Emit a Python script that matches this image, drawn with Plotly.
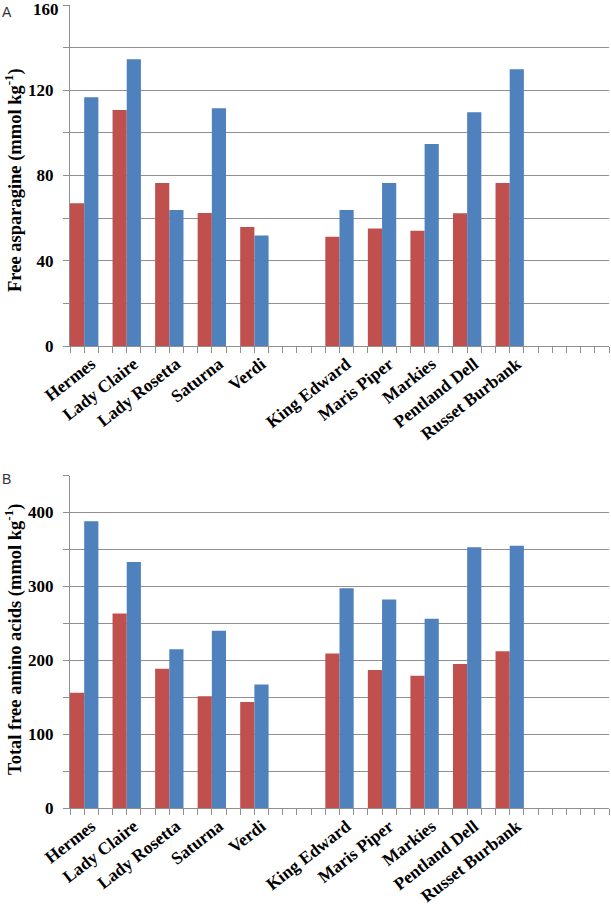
import plotly.graph_objects as go
import numpy as np

# ---- data ----
cultivars = ["Hermes", "Lady Claire", "Lady Rosetta", "Saturna", "Verdi", "",
             "King Edward", "Maris Piper", "Markies", "Pentland Dell", "Russet Burbank"]
asn_red = [67.0, 110.7, 76.5, 62.4, 55.8, None, 51.3, 55.1, 54.1, 62.3, 76.5]
asn_blue = [116.7, 134.5, 63.8, 111.5, 51.9, None, 63.8, 76.5, 94.8, 109.7, 129.8]
faa_red = [156.2, 263.5, 188.8, 151.4, 143.6, None, 209.4, 186.9, 179.2, 195.0, 212.2]
faa_blue = [388.2, 333.2, 214.9, 240.0, 167.4, None, 297.7, 282.4, 256.2, 353.1, 354.9]

asn_ticks = [0, 20, 40, 60, 80, 100, 120, 140, 160]
asn_labels = ["0", "", "40", "", "80", "", "120", "", ""]
asn_top_label = "160"
faa_ticks = [0, 50, 100, 150, 200, 250, 300, 350, 400, 450]
faa_labels = ["0", "", "100", "", "200", "", "300", "", "400", ""]

RED = "#C0504D"
BLUE = "#4F81BD"
GRID = "#8f8f8f"
W, H = 611, 919

x = np.arange(len(cultivars))
label_idx = [i for i, c in enumerate(cultivars) if c]
label_txt = [cultivars[i] for i in label_idx]

fig = go.Figure()
for vals, col, off, xa, ya in [
    (asn_red, RED, -0.5, "x", "y"),
    (asn_blue, BLUE, -1 / 6, "x", "y"),
    (faa_red, RED, -0.5, "x2", "y2"),
    (faa_blue, BLUE, -1 / 6, "x2", "y2"),
]:
    fig.add_trace(go.Bar(x=x, y=vals, width=1 / 3, offset=off,
                         marker=dict(color=col, line=dict(width=0)),
                         xaxis=xa, yaxis=ya, showlegend=False, hoverinfo="skip"))

SERIF = "Liberation Serif, Times New Roman, serif"
xfont = dict(family=SERIF, size=17.5, color="black", weight="bold")
yfont = dict(family=SERIF, size=17, color="black", weight="bold")
tfont = dict(family=SERIF, size=18.5, color="black", weight="bold")

xr = [-0.5, -0.5 + 38 / 3 + 1e-6]
xdom = [70 / W, 609 / W]


def xaxis(anchor):
    return dict(domain=xdom, range=xr, anchor=anchor, tickmode="array",
                tickvals=label_idx, ticktext=label_txt, tickangle=-38,
                ticks="", tickfont=xfont, showgrid=False, zeroline=False,
                showline=True, linecolor=GRID, linewidth=1, automargin=False,
                ticklabeloverflow="allow",
                minor=dict(tick0=-0.5, dtick=1 / 3, ticks="outside", ticklen=6,
                           tickcolor=GRID, tickwidth=1, showgrid=False))


def yaxis(anchor, dom, ticks, labels):
    return dict(domain=dom, range=[0, ticks[-1]], anchor=anchor, tickmode="array",
                tickvals=ticks, ticktext=labels,
                ticks="outside", ticklen=6, tickcolor=GRID, tickfont=yfont,
                ticklabelstandoff=6, ticklabeloverflow="allow",
                showgrid=True, gridcolor=GRID, gridwidth=1, zeroline=False,
                showline=True, linecolor=GRID, linewidth=1, automargin=False)


fig.update_layout(
    width=W, height=H, margin=dict(l=0, r=0, t=0, b=0),
    paper_bgcolor="white", plot_bgcolor="white", barmode="overlay",
    xaxis=xaxis("y"),
    yaxis=yaxis("x", [1 - 346 / H, 1 - 5 / H], asn_ticks, asn_labels),
    xaxis2=xaxis("y2"),
    yaxis2=yaxis("x2", [1 - 808.3 / H, 1 - 475.5 / H], faa_ticks, faa_labels),
    annotations=[
        dict(text=asn_top_label, x=61 / W, y=1 - 10 / H, xref="paper", yref="paper",
             showarrow=False, xanchor="right", yanchor="middle", font=yfont),
        dict(text="Free asparagine (mmol kg<sup>-1</sup>)", x=13 / W, y=1 - 180 / H,
             xref="paper", yref="paper", textangle=-90, showarrow=False,
             xanchor="center", yanchor="middle", font=tfont),
        dict(text="Total free amino acids (mmol kg<sup>-1</sup>)", x=13 / W, y=1 - 640 / H,
             xref="paper", yref="paper", textangle=-90, showarrow=False,
             xanchor="center", yanchor="middle", font=tfont),
        dict(text="A", x=0 / W, y=1 - 2 / H, xref="paper", yref="paper",
             showarrow=False, xanchor="left", yanchor="top",
             font=dict(family="Liberation Sans, Arial, sans-serif", size=14, color="#333")),
        dict(text="B", x=0 / W, y=1 - 469 / H, xref="paper", yref="paper",
             showarrow=False, xanchor="left", yanchor="top",
             font=dict(family="Liberation Sans, Arial, sans-serif", size=14, color="#333")),
    ],
)

fig.write_html("out.html", config={"displayModeBar": False},
               post_script="document.body.style.margin='0';document.body.style.overflow='hidden';")
